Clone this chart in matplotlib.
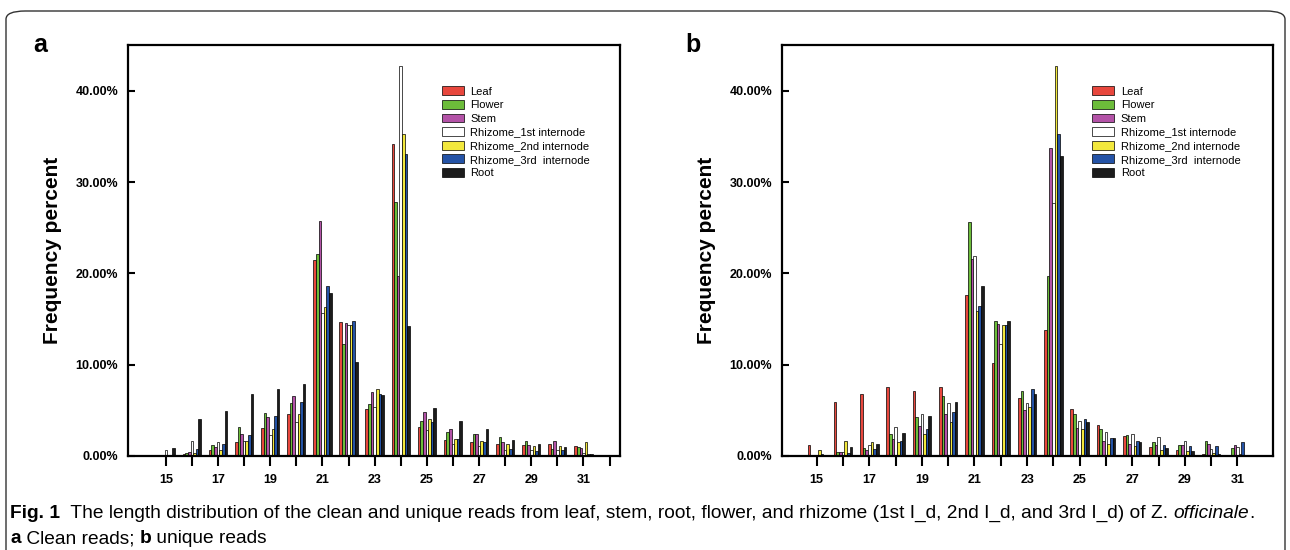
import numpy as np
import matplotlib
matplotlib.use('Agg')
import matplotlib.pyplot as plt
from matplotlib.patches import FancyBboxPatch

plt.rcParams['font.family'] = ['Liberation Sans', 'DejaVu Sans']

lengths = np.arange(15, 32)
series = ['Leaf', 'Flower', 'Stem', 'Rhizome_1st internode',
          'Rhizome_2nd internode', 'Rhizome_3rd  internode', 'Root']
colors = ['#e8473d', '#6cbd3a', '#b352a7', '#ffffff', '#f2e83c', '#2453a6', '#1c1c1c']

# clean reads (%), one list per sample, lengths 15..31
clean_leaf  = [0.05, 0.25, 0.6, 1.55, 3.05, 4.55, 21.45, 14.65, 5.1, 34.15, 3.15, 1.8, 1.5, 1.35, 1.25, 1.35, 1.1]
clean_flow  = [0.05, 0.35, 1.25, 3.2, 4.7, 5.8, 22.1, 12.3, 5.7, 27.85, 3.8, 2.6, 2.35, 2.1, 1.65, 0.8, 1.0]
clean_stem  = [0.1, 0.45, 0.95, 2.35, 4.25, 6.6, 25.7, 14.6, 7.05, 19.7, 4.8, 3.0, 2.35, 1.55, 1.25, 1.65, 0.85]
clean_rh1   = [0.7, 1.65, 1.55, 1.6, 2.3, 3.7, 15.7, 14.3, 5.35, 42.75, 2.8, 1.35, 1.1, 0.7, 0.6, 0.7, 0.3]
clean_rh2   = [0.1, 0.3, 0.7, 1.6, 3.0, 4.6, 16.35, 14.3, 7.3, 35.25, 4.0, 1.9, 1.65, 1.35, 1.1, 1.1, 1.55]
clean_rh3   = [0.1, 0.8, 1.35, 2.3, 4.4, 5.95, 18.6, 14.75, 6.8, 33.1, 3.7, 1.9, 1.55, 0.8, 0.55, 0.6, 0.2]
clean_root  = [0.85, 4.0, 4.95, 6.8, 7.3, 7.9, 17.9, 10.25, 6.65, 14.25, 5.25, 3.85, 2.9, 1.8, 1.35, 1.0, 0.25]

# unique reads (%)
uniq_leaf  = [1.25, 5.9, 6.75, 7.6, 7.15, 7.6, 17.65, 10.2, 6.3, 13.8, 5.1, 3.4, 2.2, 1.0, 0.7, 0.25, 0.05]
uniq_flow  = [0.05, 0.4, 0.9, 2.35, 4.25, 6.6, 25.65, 14.75, 7.1, 19.7, 4.6, 3.0, 2.3, 1.55, 1.25, 1.65, 0.85]
uniq_stem  = [0.1, 0.4, 0.6, 1.9, 3.3, 4.55, 21.6, 14.45, 5.0, 33.7, 3.1, 1.65, 1.35, 1.25, 1.25, 1.35, 1.25]
uniq_rh1   = [0.1, 0.4, 1.25, 3.15, 4.6, 5.8, 21.9, 12.25, 5.8, 27.7, 3.8, 2.6, 2.35, 2.05, 1.65, 0.8, 1.0]
uniq_rh2   = [0.7, 1.65, 1.5, 1.5, 2.35, 3.7, 15.9, 14.3, 5.35, 42.7, 2.9, 1.35, 1.05, 0.7, 0.55, 0.35, 0.25]
uniq_rh3   = [0.2, 0.35, 0.75, 1.65, 3.0, 4.8, 16.4, 14.3, 7.3, 35.25, 4.0, 1.95, 1.65, 1.25, 1.1, 1.1, 1.55]
uniq_root  = [0.15, 1.0, 1.35, 2.5, 4.4, 5.9, 18.6, 14.75, 6.8, 32.9, 3.7, 1.95, 1.55, 0.85, 0.5, 0.25, 0.15]

clean = [clean_leaf, clean_flow, clean_stem, clean_rh1, clean_rh2, clean_rh3, clean_root]
uniq = [uniq_leaf, uniq_flow, uniq_stem, uniq_rh1, uniq_rh2, uniq_rh3, uniq_root]

fig = plt.figure(figsize=(12.9, 5.5), dpi=100)
axa = fig.add_axes([0.0992, 0.171, 0.3814, 0.747])
axb = fig.add_axes([0.6062, 0.171, 0.3806, 0.747])

bw = 0.1


def draw_panel(ax, data, xlim, xticks, leg_anchor):
    for i, (name, vals, c) in enumerate(zip(series, data, colors)):
        ax.bar(lengths + (i - 3) * bw, vals, width=bw, color=c,
               edgecolor='black', linewidth=0.5, label=name)
    ax.set_xlim(*xlim)
    ax.set_ylim(0, 45)
    ax.set_xticks(xticks)
    ax.set_xticklabels([str(t) if t % 2 == 1 else '' for t in xticks],
                       fontsize=9, fontweight='bold')
    ax.set_yticks([0, 10, 20, 30, 40])
    ax.set_yticklabels(['%.2f%%' % v for v in [0, 10, 20, 30, 40]],
                       fontsize=9, fontweight='bold')
    ax.tick_params(axis='x', direction='out', length=7, width=1.5, pad=6)
    ax.tick_params(axis='y', direction='in', length=5, width=1.5, pad=7)
    for s in ax.spines.values():
        s.set_linewidth(1.6)
    ax.set_ylabel('Frequency percent', fontsize=15, fontweight='bold', labelpad=10)
    ax.legend(loc='upper left', bbox_to_anchor=leg_anchor, frameon=False,
              fontsize=8, handlelength=2.0, handleheight=0.85,
              labelspacing=0.3, handletextpad=0.6, borderpad=0)


draw_panel(axa, clean, (13.55, 32.4), np.arange(15, 33), (0.626, 0.913))
draw_panel(axb, uniq, (13.68, 32.35), np.arange(15, 32), (0.62, 0.913))

fig.text(0.026, 0.918, 'a', fontsize=18, fontweight='bold', va='center')
fig.text(0.531, 0.918, 'b', fontsize=18, fontweight='bold', va='center')

# rounded outer frame
frame = FancyBboxPatch((6 / 1290, -0.2), 1279 / 1290, 1.18, transform=fig.transFigure,
                       boxstyle='round,pad=0,rounding_size=0.015', fill=False,
                       edgecolor='#333333', linewidth=1.0, clip_on=False)
fig.patches.append(frame)

# caption, drawn piece by piece
cap_font = ['Liberation Sans', 'DejaVu Sans']
renderer = fig.canvas.get_renderer()


def caption_line(x, y, parts, size):
    for txt, weight, style in parts:
        t = fig.text(x, y, txt, fontsize=size, fontweight=weight, fontstyle=style,
                     family=cap_font, va='baseline')
        bb = t.get_window_extent(renderer=renderer)
        x += bb.width / fig.bbox.width


line1 = [('Fig. 1', 'bold', 'normal'),
         ('  The length distribution of the clean and unique reads from leaf, stem, root, flower, '
          'and rhizome (1st I_d, 2nd I_d, and 3rd I_d) of Z. ', 'normal', 'normal'),
         ('officinale', 'normal', 'italic'),
         ('.', 'normal', 'normal')]
line2 = [('a', 'bold', 'normal'), (' Clean reads; ', 'normal', 'normal'),
         ('b', 'bold', 'normal'), (' unique reads', 'normal', 'normal')]
caption_line(0.008, 0.058, line1, 13.75)
caption_line(0.008, 0.012, line2, 13.75)

fig.savefig('out.png', dpi=100)
